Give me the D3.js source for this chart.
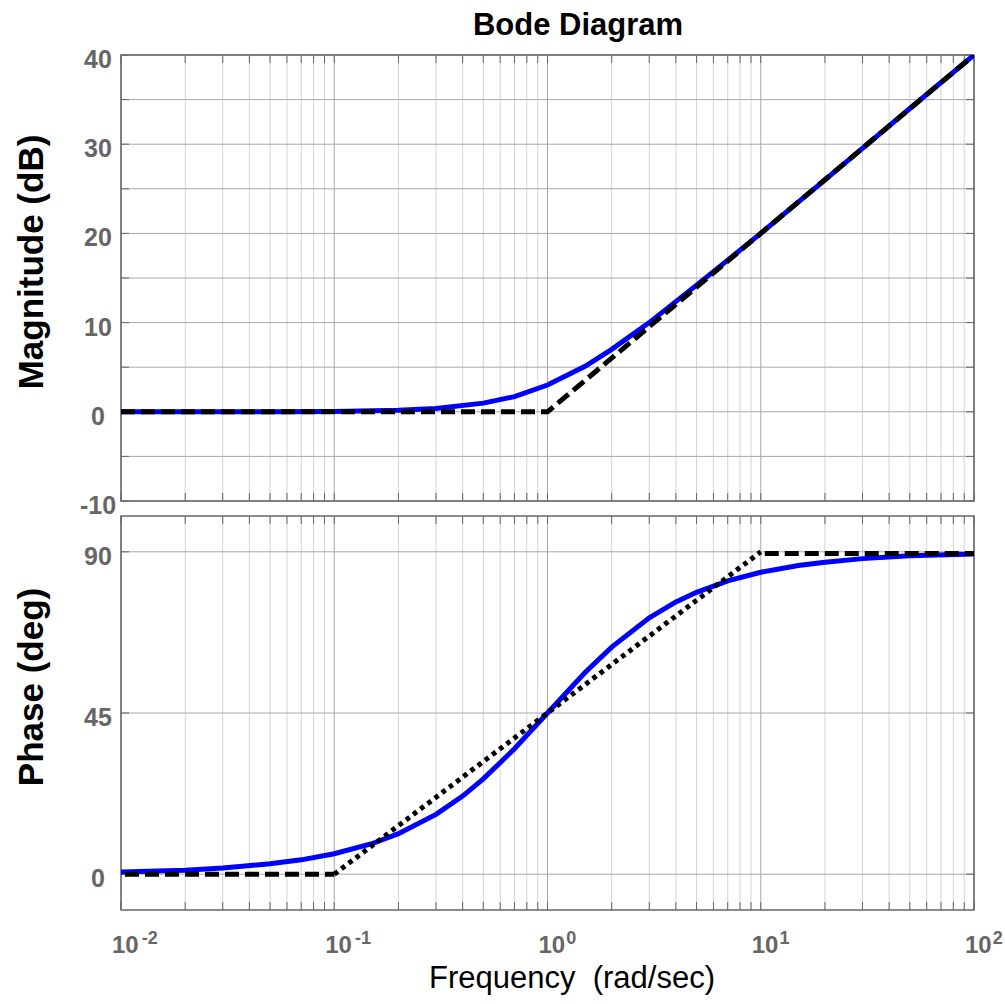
<!DOCTYPE html>
<html>
<head>
<meta charset="utf-8">
<script src="https://cdn.jsdelivr.net/npm/d3@7"></script>
<style>
  body { margin: 0; background: #fff; }
  svg { display: block; }
  text { font-family: "Liberation Sans", Arial, sans-serif; }
</style>
</head>
<body>
<div id="chart"></div>
<script>
// values
const magFreq = [0.01, 0.02, 0.05, 0.1, 0.2, 0.3, 0.5, 0.7, 1, 1.5, 2, 3, 5, 7, 10, 20, 50, 100];
const magDb = [0, 0, 0.01, 0.04, 0.17, 0.37, 0.97, 1.7, 3.0, 5.1, 7.0, 10.0, 14.2, 17.0, 20.0, 26.0, 34.0, 40.0];

const phFreq = [0.01, 0.02, 0.03, 0.05, 0.07, 0.1, 0.15, 0.2, 0.3, 0.4, 0.5, 0.7, 1, 1.5, 2, 3, 4, 5, 7, 10, 15, 20, 30, 50, 100];
const phDeg = [0.6, 1.1, 1.7, 2.9, 4.0, 5.7, 8.5, 11.3, 16.7, 21.8, 26.6, 35.0, 45.0, 56.3, 63.4, 71.6, 76.0, 78.7, 81.9, 84.3, 86.2, 87.1, 88.1, 88.9, 89.4];

const magAsymFreq = [0.01, 1, 100];
const magAsymDb = [0, 0, 40];

const phLowFreq = [0.01, 0.1];
const phLowDeg = [0, 0];
const phMidFreq = [0.1, 10];
const phMidDeg = [0, 90];
const phHighFreq = [10, 100];
const phHighDeg = [89.5, 89.5];

const magTicks = [-10, -5, 0, 5, 10, 15, 20, 25, 30, 35, 40];
const magLabels = [-10, 0, 10, 20, 30, 40];
const phTicks = [0, 45, 90];
const decades = [-2, -1, 0, 1, 2];

const width = 1005;
const height = 1004;
const left = 121, right = 974;

const svg = d3.select("#chart")
  .append("svg")
  .attr("width", width)
  .attr("height", height);

const x = d3.scaleLog().domain([0.01, 100]).range([left, right]);
const yMag = d3.scaleLinear().domain([-10, 40]).range([501, 55]);
const yPh = d3.scaleLinear().domain([-10, 100]).range([910, 516]);

// minor and major frequencies for the log grid
const minorFreq = [];
decades.slice(0, -1).forEach(p => {
  for (let k = 2; k <= 9; k++) minorFreq.push(k * Math.pow(10, p));
});
const majorFreq = decades.map(p => Math.pow(10, p));

const drawPanel = (id, y, yTicks, yLabels) => {
  const top = y.range()[1], bottom = y.range()[0];
  const g = svg.append("g");

  g.append("clipPath").attr("id", id)
    .append("rect")
    .attr("x", left).attr("y", top)
    .attr("width", right - left).attr("height", bottom - top);

  g.selectAll(".vminor").data(minorFreq).enter().append("line")
    .attr("x1", d => x(d)).attr("x2", d => x(d))
    .attr("y1", top).attr("y2", bottom)
    .attr("stroke", "#d4d4d4").attr("stroke-width", 1);

  g.selectAll(".vmajor").data(majorFreq).enter().append("line")
    .attr("x1", d => x(d)).attr("x2", d => x(d))
    .attr("y1", top).attr("y2", bottom)
    .attr("stroke", "#a8a8a8").attr("stroke-width", 1);

  g.selectAll(".hgrid").data(yTicks).enter().append("line")
    .attr("x1", left).attr("x2", right)
    .attr("y1", d => y(d)).attr("y2", d => y(d))
    .attr("stroke", "#a8a8a8").attr("stroke-width", 1);

  // tick marks on all four sides
  const tk = 8;
  g.selectAll(".ytl").data(yTicks).enter().append("line")
    .attr("x1", left).attr("x2", left + tk)
    .attr("y1", d => y(d)).attr("y2", d => y(d))
    .attr("stroke", "#666");
  g.selectAll(".ytr").data(yTicks).enter().append("line")
    .attr("x1", right - tk).attr("x2", right)
    .attr("y1", d => y(d)).attr("y2", d => y(d))
    .attr("stroke", "#666");
  const allFreq = minorFreq.concat(majorFreq);
  g.selectAll(".xtb").data(allFreq).enter().append("line")
    .attr("x1", d => x(d)).attr("x2", d => x(d))
    .attr("y1", bottom - tk).attr("y2", bottom)
    .attr("stroke", "#666");
  g.selectAll(".xtt").data(allFreq).enter().append("line")
    .attr("x1", d => x(d)).attr("x2", d => x(d))
    .attr("y1", top).attr("y2", top + tk)
    .attr("stroke", "#666");

  g.append("rect")
    .attr("x", left).attr("y", top)
    .attr("width", right - left).attr("height", bottom - top)
    .attr("fill", "none").attr("stroke", "#666").attr("stroke-width", 1.5);

  g.selectAll(".ylab").data(yLabels).enter().append("text")
    .attr("x", 98).attr("y", d => y(d) + 13)
    .attr("text-anchor", "middle")
    .attr("font-size", 25).attr("font-weight", "bold")
    .attr("fill", "#666")
    .text(d => d);

  return g.append("g").attr("clip-path", `url(#${id})`);
};

const line = y => d3.line().x(d => x(d[0])).y(d => y(d[1]));
const zip = (a, b) => a.map((v, i) => [v, b[i]]);

// magnitude panel
const magG = drawPanel("clipMag", yMag, magTicks, magLabels);
magG.append("path")
  .attr("d", line(yMag)(zip(magFreq, magDb)))
  .attr("fill", "none").attr("stroke", "#0000ff").attr("stroke-width", 5);
magG.append("path")
  .attr("d", line(yMag)(zip(magAsymFreq, magAsymDb)))
  .attr("fill", "none").attr("stroke", "#000").attr("stroke-width", 5)
  .attr("stroke-dasharray", "14,6");

// phase panel
const phG = drawPanel("clipPh", yPh, phTicks, phTicks);
phG.append("path")
  .attr("d", line(yPh)(zip(phFreq, phDeg)))
  .attr("fill", "none").attr("stroke", "#0000ff").attr("stroke-width", 5);
phG.append("path")
  .attr("d", line(yPh)(zip(phLowFreq, phLowDeg)))
  .attr("fill", "none").attr("stroke", "#000").attr("stroke-width", 5)
  .attr("stroke-dasharray", "14,6").attr("stroke-dashoffset", -4);
phG.append("path")
  .attr("d", line(yPh)(zip(phMidFreq, phMidDeg)))
  .attr("fill", "none").attr("stroke", "#000").attr("stroke-width", 5)
  .attr("stroke-dasharray", "4.5,4.5");
phG.append("path")
  .attr("d", line(yPh)(zip(phHighFreq, phHighDeg)))
  .attr("fill", "none").attr("stroke", "#000").attr("stroke-width", 5)
  .attr("stroke-dasharray", "14,6").attr("stroke-dashoffset", -4);

// x tick labels (10^n)
const xl = svg.selectAll(".xlab").data(decades).enter().append("text")
  .attr("x", d => x(Math.pow(10, d)) - 9)
  .attr("y", 953)
  .attr("font-weight", "bold").attr("fill", "#666");
xl.append("tspan").attr("font-size", 24).text("10");
xl.append("tspan").attr("font-size", 18).attr("dy", -9)
  .attr("dx", d => d < 0 ? 3 : 1)
  .text(d => d < 0 ? "-" + Math.abs(d) : d);

// titles
svg.append("text")
  .attr("x", 578).attr("y", 35)
  .attr("text-anchor", "middle")
  .attr("font-size", 31).attr("font-weight", "bold")
  .text("Bode Diagram");

svg.append("text")
  .attr("transform", "translate(43,262) rotate(-90)")
  .attr("text-anchor", "middle")
  .attr("font-size", 35).attr("font-weight", "bold")
  .text("Magnitude (dB)");

svg.append("text")
  .attr("transform", "translate(43,687) rotate(-90)")
  .attr("text-anchor", "middle")
  .attr("font-size", 35).attr("font-weight", "bold")
  .text("Phase (deg)");

svg.append("text")
  .attr("x", 572).attr("y", 988)
  .attr("text-anchor", "middle")
  .attr("font-size", 31)
  .style("white-space", "pre")
  .attr("xml:space", "preserve")
  .text("Frequency  (rad/sec)");
</script>
</body>
</html>
